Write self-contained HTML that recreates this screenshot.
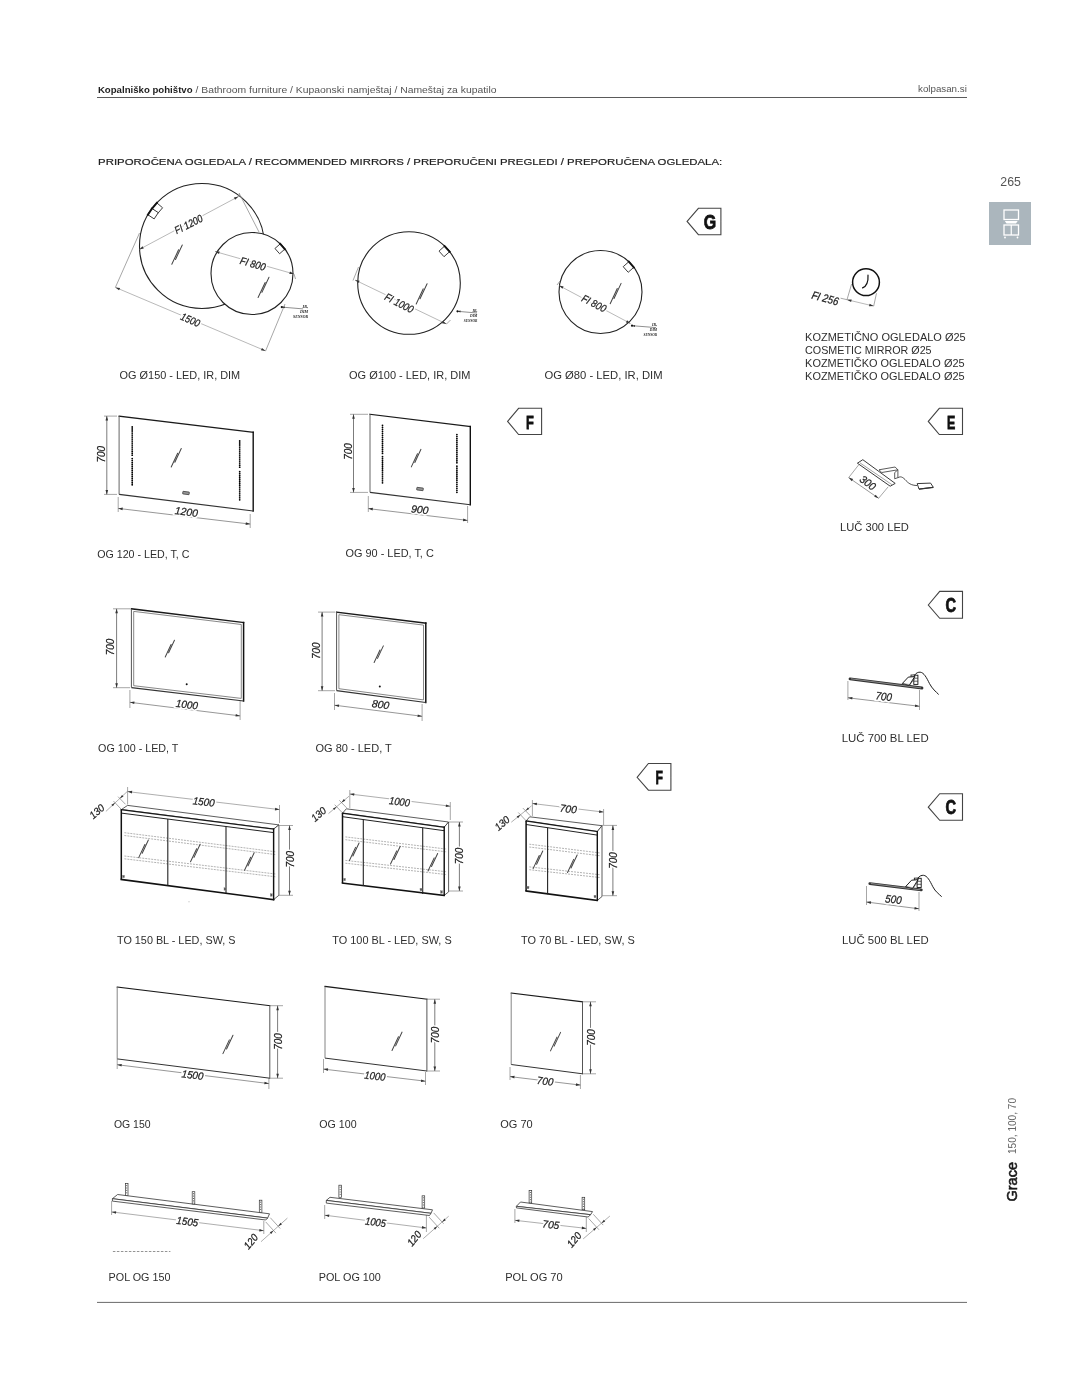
<!DOCTYPE html>
<html><head><meta charset="utf-8"><style>
html,body{margin:0;padding:0;background:#fff;width:1087px;height:1400px;overflow:hidden;position:relative;font-family:"Liberation Sans",sans-serif}
</style></head><body>
<svg width="1087" height="1400" viewBox="0 0 1087 1400" style="position:absolute;left:0;top:0;will-change:transform">
<line x1="97.0" y1="97.5" x2="967.0" y2="97.5" stroke="#5a5a5a" stroke-width="1.0" />
<text x="97.9" y="92.6" font-family="Liberation Sans" font-size="8.6" font-weight="bold" fill="#1e1e1e" textLength="94.7" lengthAdjust="spacingAndGlyphs">Kopalniško pohištvo</text>
<text x="195.5" y="92.6" font-family="Liberation Sans" font-size="8.6" fill="#555" textLength="301" lengthAdjust="spacingAndGlyphs">/ Bathroom furniture / Kupaonski namještaj / Nameštaj za kupatilo</text>
<text x="918" y="91.8" font-family="Liberation Sans" font-size="8.6" fill="#555" textLength="48.8" lengthAdjust="spacingAndGlyphs">kolpasan.si</text>
<text x="98.1" y="164.7" font-family="Liberation Sans" font-size="9.9" fill="#222" font-weight="normal" stroke="#222" stroke-width="0.2" textLength="624.1" lengthAdjust="spacingAndGlyphs">PRIPOROČENA OGLEDALA / RECOMMENDED MIRRORS / PREPORUČENI PREGLEDI / PREPORUČENA OGLEDALA:</text>
<text x="1000.3" y="185.9" font-family="Liberation Sans" font-size="12.4" fill="#555" textLength="20.6" lengthAdjust="spacingAndGlyphs">265</text>
<rect x="989" y="202" width="42" height="43" fill="#abb6bd"/>
<rect x="1004" y="210" width="14.5" height="9.5" fill="none" stroke="#fff" stroke-width="1.3"/>
<polygon points="1004.8,221 1017.7,221 1016,223.6 1006.5,223.6" fill="#fff"/>
<rect x="1004" y="225" width="14.5" height="10" fill="none" stroke="#fff" stroke-width="1.3"/>
<line x1="1011.25" y1="225" x2="1011.25" y2="235" stroke="#fff" stroke-width="1.2"/>
<circle cx="1005" cy="237.5" r="0.9" fill="#fff"/><circle cx="1017.5" cy="237.5" r="0.9" fill="#fff"/>
<line x1="97.0" y1="1302.4" x2="967.0" y2="1302.4" stroke="#6a6a6a" stroke-width="1.0" />
<text x="0" y="0" transform="translate(1017,1201.5) rotate(-90)" font-family="Liberation Sans" font-size="14.4" fill="#1a1a1a" stroke="#1a1a1a" stroke-width="0.55" textLength="39.5" lengthAdjust="spacingAndGlyphs">Grace</text>
<text x="0" y="0" transform="translate(1016,1154) rotate(-90)" font-family="Liberation Sans" font-size="10.3" fill="#666" textLength="56" lengthAdjust="spacingAndGlyphs">150, 100, 70</text>
<line x1="115.4" y1="287.4" x2="265.6" y2="350.9" stroke="#8a8a8a" stroke-width="0.6" />
<polygon points="115.4,287.4 120.1,288.0 119.0,290.3" fill="#333"/>
<polygon points="265.6,350.9 260.9,350.3 262.0,348.0" fill="#333"/>
<line x1="115.4" y1="287.4" x2="139.5" y2="233.0" stroke="#8a8a8a" stroke-width="0.75" />
<line x1="265.6" y1="350.9" x2="285.0" y2="304.0" stroke="#8a8a8a" stroke-width="0.75" />
<text x="0" y="0" transform="translate(190.5,319.5) rotate(23)" font-family="Liberation Sans" font-style="italic" font-size="10.5" text-anchor="middle" dominant-baseline="central" textLength="20" lengthAdjust="spacingAndGlyphs" fill="none" stroke="#fff" stroke-width="3.5">1500</text>
<text x="0" y="0" transform="translate(190.5,319.5) rotate(23)" font-family="Liberation Sans" font-style="italic" font-size="10.5" text-anchor="middle" dominant-baseline="central" textLength="20" lengthAdjust="spacingAndGlyphs" fill="#222" stroke="#222" stroke-width="0.25">1500</text>
<circle cx="202" cy="246" r="62.5" fill="#fff" stroke="#222" stroke-width="1.1"/>
<line x1="139.2" y1="249.5" x2="238.5" y2="196.5" stroke="#8a8a8a" stroke-width="0.6" />
<polygon points="139.2,249.5 142.6,246.2 143.8,248.5" fill="#333"/>
<polygon points="238.5,196.5 235.1,199.8 233.9,197.5" fill="#333"/>
<line x1="238.5" y1="196.5" x2="239.5" y2="193.5" stroke="#8a8a8a" stroke-width="0.75" />
<line x1="239.0" y1="193.0" x2="259.0" y2="232.0" stroke="#8a8a8a" stroke-width="0.75" />
<text x="0" y="0" transform="translate(188.4,224.0) rotate(-27)" font-family="Liberation Sans" font-style="italic" font-size="10.5" text-anchor="middle" dominant-baseline="central" textLength="30" lengthAdjust="spacingAndGlyphs" fill="none" stroke="#fff" stroke-width="3.5">FI 1200</text>
<text x="0" y="0" transform="translate(188.4,224.0) rotate(-27)" font-family="Liberation Sans" font-style="italic" font-size="10.5" text-anchor="middle" dominant-baseline="central" textLength="30" lengthAdjust="spacingAndGlyphs" fill="#222" stroke="#222" stroke-width="0.25">FI 1200</text>
<g transform="translate(157.3,208.2) rotate(130.2)"><rect x="-3.75" y="-3.75" width="7.5" height="7.5" fill="#fff" stroke="#222" stroke-width="0.8"/><line x1="-4.75" y1="3.75" x2="4.75" y2="3.75" stroke="#111" stroke-width="1.9"/></g>
<g transform="translate(153.1,213.7) rotate(123.4)"><rect x="-3.75" y="-3.75" width="7.5" height="7.5" fill="#fff" stroke="#222" stroke-width="0.8"/><line x1="-4.75" y1="3.75" x2="4.75" y2="3.75" stroke="#111" stroke-width="1.9"/></g>
<g transform="translate(177.0,254.6) rotate(25)"><path d="M-0.6,11.0 L-0.6,-5.0 M0.7,5.0 L0.7,-11.0" stroke="#444" stroke-width="1.0" fill="none" stroke-linecap="round"/></g>
<circle cx="252" cy="273.5" r="41" fill="#fff" stroke="#222" stroke-width="1.1"/>
<g transform="translate(279.9,248.8) rotate(-131.5)"><rect x="-3.5" y="-3.5" width="7" height="7" fill="#fff" stroke="#222" stroke-width="0.8"/><line x1="-4.5" y1="3.5" x2="4.5" y2="3.5" stroke="#111" stroke-width="1.9"/></g>
<line x1="215.0" y1="251.5" x2="294.0" y2="274.0" stroke="#8a8a8a" stroke-width="0.6" />
<polygon points="215.0,251.5 219.7,251.5 219.0,254.0" fill="#333"/>
<polygon points="294.0,274.0 289.3,274.0 290.0,271.5" fill="#333"/>
<line x1="294.0" y1="274.0" x2="295.5" y2="279.0" stroke="#8a8a8a" stroke-width="0.75" />
<text x="0" y="0" transform="translate(252.9,263.5) rotate(16)" font-family="Liberation Sans" font-style="italic" font-size="10.5" text-anchor="middle" dominant-baseline="central" textLength="26" lengthAdjust="spacingAndGlyphs" fill="none" stroke="#fff" stroke-width="3.5">FI 800</text>
<text x="0" y="0" transform="translate(252.9,263.5) rotate(16)" font-family="Liberation Sans" font-style="italic" font-size="10.5" text-anchor="middle" dominant-baseline="central" textLength="26" lengthAdjust="spacingAndGlyphs" fill="#222" stroke="#222" stroke-width="0.25">FI 800</text>
<g transform="translate(263.5,287.4) rotate(25)"><path d="M-0.6,11.5 L-0.6,-5.2 M0.7,5.2 L0.7,-11.5" stroke="#444" stroke-width="1.0" fill="none" stroke-linecap="round"/></g>
<line x1="281.8" y1="307.1" x2="303.1" y2="308.9" stroke="#444" stroke-width="0.6" />
<polygon points="281.8,307.1 284.9,306.4 284.7,308.3" fill="#333"/>
<circle cx="281.8" cy="307.1" r="1.1" fill="#111"/>
<text x="302.5" y="307.5" font-family="Liberation Serif" font-style="italic" font-weight="bold" font-size="4.4" fill="#222" textLength="5.5" lengthAdjust="spacingAndGlyphs">IR,</text>
<text x="300.0" y="312.8" font-family="Liberation Serif" font-style="italic" font-weight="bold" font-size="4.4" fill="#222" textLength="8.0" lengthAdjust="spacingAndGlyphs">DIM</text>
<text x="293.0" y="318.3" font-family="Liberation Serif" font-style="italic" font-weight="bold" font-size="4.4" fill="#222" textLength="15.0" lengthAdjust="spacingAndGlyphs">SENSOR</text>
<circle cx="409" cy="283" r="51.3" fill="#fff" stroke="#222" stroke-width="1.1"/>
<line x1="355.0" y1="280.0" x2="446.5" y2="324.0" stroke="#8a8a8a" stroke-width="0.6" />
<polygon points="355.0,280.0 359.6,280.8 358.5,283.1" fill="#333"/>
<polygon points="446.5,324.0 441.9,323.2 443.0,320.9" fill="#333"/>
<line x1="353.0" y1="280.5" x2="358.5" y2="267.0" stroke="#8a8a8a" stroke-width="0.75" />
<line x1="446.5" y1="324.0" x2="450.5" y2="320.0" stroke="#8a8a8a" stroke-width="0.75" />
<text x="0" y="0" transform="translate(399.3,302.8) rotate(27)" font-family="Liberation Sans" font-style="italic" font-size="10.5" text-anchor="middle" dominant-baseline="central" textLength="31" lengthAdjust="spacingAndGlyphs" fill="none" stroke="#fff" stroke-width="3.5">FI 1000</text>
<text x="0" y="0" transform="translate(399.3,302.8) rotate(27)" font-family="Liberation Sans" font-style="italic" font-size="10.5" text-anchor="middle" dominant-baseline="central" textLength="31" lengthAdjust="spacingAndGlyphs" fill="#222" stroke="#222" stroke-width="0.25">FI 1000</text>
<g transform="translate(444.3,251.4) rotate(-131.8)"><rect x="-3.75" y="-3.75" width="7.5" height="7.5" fill="#fff" stroke="#222" stroke-width="0.8"/><line x1="-4.75" y1="3.75" x2="4.75" y2="3.75" stroke="#111" stroke-width="1.9"/></g>
<g transform="translate(421.6,293.8) rotate(25)"><path d="M-0.6,11.5 L-0.6,-5.2 M0.7,5.2 L0.7,-11.5" stroke="#444" stroke-width="1.0" fill="none" stroke-linecap="round"/></g>
<line x1="457.5" y1="311.3" x2="477.0" y2="313.0" stroke="#444" stroke-width="0.6" />
<polygon points="457.5,311.3 460.6,310.6 460.4,312.6" fill="#333"/>
<circle cx="457.5" cy="311.3" r="1.1" fill="#111"/>
<text x="472.4" y="311.9" font-family="Liberation Serif" font-style="italic" font-weight="bold" font-size="4.0" fill="#222" textLength="5.0" lengthAdjust="spacingAndGlyphs">IR,</text>
<text x="470.1" y="316.6" font-family="Liberation Serif" font-style="italic" font-weight="bold" font-size="4.0" fill="#222" textLength="7.2" lengthAdjust="spacingAndGlyphs">DIM</text>
<text x="463.8" y="321.6" font-family="Liberation Serif" font-style="italic" font-weight="bold" font-size="4.0" fill="#222" textLength="13.5" lengthAdjust="spacingAndGlyphs">SENSOR</text>
<circle cx="600.5" cy="292" r="41.5" fill="#fff" stroke="#222" stroke-width="1.1"/>
<line x1="559.0" y1="285.5" x2="630.5" y2="323.5" stroke="#8a8a8a" stroke-width="0.6" />
<polygon points="559.0,285.5 563.6,286.5 562.4,288.8" fill="#333"/>
<polygon points="630.5,323.5 625.9,322.5 627.1,320.2" fill="#333"/>
<line x1="557.0" y1="285.0" x2="560.0" y2="281.0" stroke="#8a8a8a" stroke-width="0.75" />
<text x="0" y="0" transform="translate(594.2,303.1) rotate(27)" font-family="Liberation Sans" font-style="italic" font-size="10.5" text-anchor="middle" dominant-baseline="central" textLength="26" lengthAdjust="spacingAndGlyphs" fill="none" stroke="#fff" stroke-width="3.5">FI 800</text>
<text x="0" y="0" transform="translate(594.2,303.1) rotate(27)" font-family="Liberation Sans" font-style="italic" font-size="10.5" text-anchor="middle" dominant-baseline="central" textLength="26" lengthAdjust="spacingAndGlyphs" fill="#222" stroke="#222" stroke-width="0.25">FI 800</text>
<g transform="translate(628.5,267.0) rotate(-131.7)"><rect x="-3.75" y="-3.75" width="7.5" height="7.5" fill="#fff" stroke="#222" stroke-width="0.8"/><line x1="-4.75" y1="3.75" x2="4.75" y2="3.75" stroke="#111" stroke-width="1.9"/></g>
<g transform="translate(615.6,293.5) rotate(25)"><path d="M-0.6,11.5 L-0.6,-5.2 M0.7,5.2 L0.7,-11.5" stroke="#444" stroke-width="1.0" fill="none" stroke-linecap="round"/></g>
<line x1="632.0" y1="325.7" x2="656.0" y2="327.6" stroke="#444" stroke-width="0.6" />
<polygon points="632.0,325.7 635.1,324.9 634.9,326.9" fill="#333"/>
<circle cx="632.0" cy="325.7" r="1.1" fill="#111"/>
<text x="652.0" y="326.2" font-family="Liberation Serif" font-style="italic" font-weight="bold" font-size="4.0" fill="#222" textLength="5.0" lengthAdjust="spacingAndGlyphs">IR,</text>
<text x="649.8" y="330.9" font-family="Liberation Serif" font-style="italic" font-weight="bold" font-size="4.0" fill="#222" textLength="7.2" lengthAdjust="spacingAndGlyphs">DIM</text>
<text x="643.5" y="335.9" font-family="Liberation Serif" font-style="italic" font-weight="bold" font-size="4.0" fill="#222" textLength="13.5" lengthAdjust="spacingAndGlyphs">SENSOR</text>
<circle cx="866" cy="282.2" r="13.4" fill="#fff" stroke="#111" stroke-width="1.5"/>
<path d="M868,275.2 C868.3,280 867.8,285.5 862.6,287.9" fill="none" stroke="#111" stroke-width="1.2" stroke-linecap="round"/>
<line x1="847.0" y1="299.7" x2="873.7" y2="306.1" stroke="#8a8a8a" stroke-width="0.6" />
<polygon points="847.0,299.7 851.7,299.5 851.1,302.0" fill="#333"/>
<polygon points="873.7,306.1 869.0,306.3 869.6,303.8" fill="#333"/>
<line x1="840.6" y1="298.2" x2="847.0" y2="299.7" stroke="#8a8a8a" stroke-width="0.75" />
<line x1="847.0" y1="299.7" x2="851.6" y2="284.0" stroke="#8a8a8a" stroke-width="0.75" />
<line x1="873.7" y1="306.1" x2="876.5" y2="293.2" stroke="#8a8a8a" stroke-width="0.75" />
<text x="0" y="0" transform="translate(825.2,298.1) rotate(15)" font-family="Liberation Sans" font-style="italic" font-size="11.3" text-anchor="middle" dominant-baseline="central" textLength="27.5" lengthAdjust="spacingAndGlyphs" fill="#222" stroke="#222" stroke-width="0.25">FI 256</text>
<text x="119.6" y="378.8" font-family="Liberation Sans" font-size="11" fill="#2e2e2e" font-weight="normal" textLength="120.6" lengthAdjust="spacingAndGlyphs">OG Ø150 - LED, IR, DIM</text>
<text x="349.0" y="378.5" font-family="Liberation Sans" font-size="11" fill="#2e2e2e" font-weight="normal" textLength="121.4" lengthAdjust="spacingAndGlyphs">OG Ø100 - LED, IR, DIM</text>
<text x="544.5" y="378.9" font-family="Liberation Sans" font-size="11" fill="#2e2e2e" font-weight="normal" textLength="118.0" lengthAdjust="spacingAndGlyphs">OG Ø80 - LED, IR, DIM</text>
<text x="805.1" y="341.2" font-family="Liberation Sans" font-size="10.3" fill="#2e2e2e" font-weight="normal" textLength="160.6" lengthAdjust="spacingAndGlyphs">KOZMETIČNO OGLEDALO Ø25</text>
<text x="805.1" y="354.0" font-family="Liberation Sans" font-size="10.3" fill="#2e2e2e" font-weight="normal" textLength="126.5" lengthAdjust="spacingAndGlyphs">COSMETIC MIRROR Ø25</text>
<text x="805.1" y="366.9" font-family="Liberation Sans" font-size="10.3" fill="#2e2e2e" font-weight="normal" textLength="159.5" lengthAdjust="spacingAndGlyphs">KOZMETIČKO OGLEDALO Ø25</text>
<text x="805.1" y="379.8" font-family="Liberation Sans" font-size="10.3" fill="#2e2e2e" font-weight="normal" textLength="159.5" lengthAdjust="spacingAndGlyphs">KOZMETIČKO OGLEDALO Ø25</text>
<polygon points="687.1,221.4 698.4,208.3 720.9,208.3 720.9,234.7 698.4,234.7" stroke="#444" stroke-width="1.1" fill="#fff" />
<text x="703.7" y="229.0" font-family="Liberation Sans" font-weight="bold" font-size="20.2" fill="#111" stroke="#111" stroke-width="0.8" textLength="12.4" lengthAdjust="spacingAndGlyphs">G</text>
<polygon points="507.6,421.4 518.6,408.3 541.6,408.3 541.6,434.5 518.6,434.5" stroke="#444" stroke-width="1.1" fill="#fff" />
<text x="526.0" y="428.5" font-family="Liberation Sans" font-weight="bold" font-size="19.2" fill="#111" stroke="#111" stroke-width="0.8" textLength="7.8" lengthAdjust="spacingAndGlyphs">F</text>
<polygon points="928.3,421.4 939.3,408.3 962.5,408.3 962.5,434.5 939.3,434.5" stroke="#444" stroke-width="1.1" fill="#fff" />
<text x="947.1" y="428.5" font-family="Liberation Sans" font-weight="bold" font-size="19.2" fill="#111" stroke="#111" stroke-width="0.8" textLength="8.3" lengthAdjust="spacingAndGlyphs">E</text>
<polygon points="637.1,777.3 648.4,763.5 670.9,763.5 670.9,790.2 648.4,790.2" stroke="#444" stroke-width="1.1" fill="#fff" />
<text x="655.5" y="784.0" font-family="Liberation Sans" font-weight="bold" font-size="18.9" fill="#111" stroke="#111" stroke-width="0.8" textLength="7.4" lengthAdjust="spacingAndGlyphs">F</text>
<polygon points="928.3,605.0 939.7,591.4 962.5,591.4 962.5,618.3 939.7,618.3" stroke="#444" stroke-width="1.1" fill="#fff" />
<text x="945.5" y="612.1" font-family="Liberation Sans" font-weight="bold" font-size="19.5" fill="#111" stroke="#111" stroke-width="0.8" textLength="10.6" lengthAdjust="spacingAndGlyphs">C</text>
<polygon points="928.3,807.2 939.7,793.7 962.5,793.7 962.5,820.3 939.7,820.3" stroke="#444" stroke-width="1.1" fill="#fff" />
<text x="945.5" y="814.4" font-family="Liberation Sans" font-weight="bold" font-size="19.6" fill="#111" stroke="#111" stroke-width="0.8" textLength="10.6" lengthAdjust="spacingAndGlyphs">C</text>
<line x1="118.2" y1="497.0" x2="118.2" y2="512.0" stroke="#8a8a8a" stroke-width="0.75" />
<line x1="250.2" y1="514.0" x2="250.2" y2="528.0" stroke="#8a8a8a" stroke-width="0.75" />
<line x1="118.2" y1="508.4" x2="250.2" y2="524.1" stroke="#6a6a6a" stroke-width="0.7" />
<polygon points="118.2,508.4 122.8,507.6 122.5,510.2" fill="#333"/>
<polygon points="250.2,524.1 245.6,524.9 245.9,522.3" fill="#333"/>
<text x="0" y="0" transform="translate(186.4,511.5) rotate(6.782860307195173)" font-family="Liberation Sans" font-style="italic" font-size="10.5" text-anchor="middle" dominant-baseline="central" textLength="23" lengthAdjust="spacingAndGlyphs" fill="none" stroke="#fff" stroke-width="3.5">1200</text>
<text x="0" y="0" transform="translate(186.4,511.5) rotate(6.782860307195173)" font-family="Liberation Sans" font-style="italic" font-size="10.5" text-anchor="middle" dominant-baseline="central" textLength="23" lengthAdjust="spacingAndGlyphs" fill="#222" stroke="#222" stroke-width="0.25">1200</text>
<polygon points="119.1,416.1 253.2,432.3 253.2,511 119.1,494.4" fill="#fff" stroke="none"/>
<line x1="119.1" y1="416.1" x2="253.2" y2="432.3" stroke="#1a1a1a" stroke-width="1.3"  stroke-linecap="square"/>
<line x1="253.2" y1="432.3" x2="253.2" y2="511.0" stroke="#111" stroke-width="1.4"  stroke-linecap="square"/>
<line x1="253.2" y1="511.0" x2="119.1" y2="494.4" stroke="#333" stroke-width="1.1" />
<line x1="119.1" y1="494.4" x2="119.1" y2="416.1" stroke="#555" stroke-width="0.9" />
<line x1="104.0" y1="416.1" x2="117.0" y2="416.1" stroke="#8a8a8a" stroke-width="0.75" />
<line x1="104.0" y1="494.4" x2="117.0" y2="494.4" stroke="#8a8a8a" stroke-width="0.75" />
<line x1="106.8" y1="416.1" x2="106.8" y2="494.4" stroke="#5a5a5a" stroke-width="0.8" />
<polygon points="106.8,416.1 108.1,420.6 105.5,420.6" fill="#333"/>
<polygon points="106.8,494.4 105.5,489.9 108.1,489.9" fill="#333"/>
<text x="0" y="0" transform="translate(100.7,454.2) rotate(-90)" font-family="Liberation Sans" font-style="italic" font-size="10.5" text-anchor="middle" dominant-baseline="central" textLength="16.5" lengthAdjust="spacingAndGlyphs" fill="#222" stroke="#222" stroke-width="0.25">700</text>
<line x1="132.2" y1="427.0" x2="132.2" y2="456.0" stroke="#000" stroke-width="1.8" stroke-dasharray="0.01 2.0" stroke-linecap="round"/>
<line x1="132.2" y1="458.6" x2="132.2" y2="486.5" stroke="#000" stroke-width="1.8" stroke-dasharray="0.01 2.0" stroke-linecap="round"/>
<line x1="239.7" y1="441.0" x2="239.7" y2="469.0" stroke="#000" stroke-width="1.8" stroke-dasharray="0.01 2.0" stroke-linecap="round"/>
<line x1="239.7" y1="471.7" x2="239.7" y2="500.5" stroke="#000" stroke-width="1.8" stroke-dasharray="0.01 2.0" stroke-linecap="round"/>
<g transform="translate(176.2,457.7) rotate(25)"><path d="M-0.6,10.5 L-0.6,-4.7 M0.7,4.7 L0.7,-10.5" stroke="#444" stroke-width="1.0" fill="none" stroke-linecap="round"/></g>
<g transform="translate(186.0,493.0) rotate(6.9)"><rect x="-3.25" y="-1.3" width="6.5" height="2.6" rx="0.3" fill="#999" stroke="#333" stroke-width="0.7"/></g>
<text x="97.2" y="557.5" font-family="Liberation Sans" font-size="11" fill="#2e2e2e" font-weight="normal" textLength="92.3" lengthAdjust="spacingAndGlyphs">OG 120 - LED, T, C</text>
<line x1="368.3" y1="496.0" x2="368.3" y2="512.0" stroke="#8a8a8a" stroke-width="0.75" />
<line x1="467.6" y1="506.0" x2="467.6" y2="523.0" stroke="#8a8a8a" stroke-width="0.75" />
<line x1="368.3" y1="508.6" x2="467.6" y2="520.4" stroke="#6a6a6a" stroke-width="0.7" />
<polygon points="368.3,508.6 372.9,507.8 372.6,510.4" fill="#333"/>
<polygon points="467.6,520.4 463.0,521.2 463.3,518.6" fill="#333"/>
<text x="0" y="0" transform="translate(419.8,509.2) rotate(6.776782830353389)" font-family="Liberation Sans" font-style="italic" font-size="10.5" text-anchor="middle" dominant-baseline="central" textLength="17.5" lengthAdjust="spacingAndGlyphs" fill="none" stroke="#fff" stroke-width="3.5">900</text>
<text x="0" y="0" transform="translate(419.8,509.2) rotate(6.776782830353389)" font-family="Liberation Sans" font-style="italic" font-size="10.5" text-anchor="middle" dominant-baseline="central" textLength="17.5" lengthAdjust="spacingAndGlyphs" fill="#222" stroke="#222" stroke-width="0.25">900</text>
<polygon points="370,414.3 470.3,426.5 470.3,504.8 370,492.4" fill="#fff" stroke="none"/>
<line x1="370.0" y1="414.3" x2="470.3" y2="426.5" stroke="#1a1a1a" stroke-width="1.3"  stroke-linecap="square"/>
<line x1="470.3" y1="426.5" x2="470.3" y2="504.8" stroke="#111" stroke-width="1.4"  stroke-linecap="square"/>
<line x1="470.3" y1="504.8" x2="370.0" y2="492.4" stroke="#333" stroke-width="1.1" />
<line x1="370.0" y1="492.4" x2="370.0" y2="414.3" stroke="#555" stroke-width="0.9" />
<line x1="350.0" y1="414.3" x2="368.0" y2="414.3" stroke="#8a8a8a" stroke-width="0.75" />
<line x1="350.0" y1="492.4" x2="368.0" y2="492.4" stroke="#8a8a8a" stroke-width="0.75" />
<line x1="353.5" y1="414.3" x2="353.5" y2="492.4" stroke="#5a5a5a" stroke-width="0.8" />
<polygon points="353.5,414.3 354.8,418.8 352.2,418.8" fill="#333"/>
<polygon points="353.5,492.4 352.2,487.9 354.8,487.9" fill="#333"/>
<text x="0" y="0" transform="translate(348.4,451.5) rotate(-90)" font-family="Liberation Sans" font-style="italic" font-size="10.5" text-anchor="middle" dominant-baseline="central" textLength="16.5" lengthAdjust="spacingAndGlyphs" fill="#222" stroke="#222" stroke-width="0.25">700</text>
<line x1="382.5" y1="425.3" x2="382.5" y2="453.7" stroke="#000" stroke-width="1.8" stroke-dasharray="0.01 2.0" stroke-linecap="round"/>
<line x1="382.5" y1="456.7" x2="382.5" y2="484.6" stroke="#000" stroke-width="1.8" stroke-dasharray="0.01 2.0" stroke-linecap="round"/>
<line x1="456.9" y1="434.6" x2="456.9" y2="463.3" stroke="#000" stroke-width="1.8" stroke-dasharray="0.01 2.0" stroke-linecap="round"/>
<line x1="456.9" y1="466.2" x2="456.9" y2="494.2" stroke="#000" stroke-width="1.8" stroke-dasharray="0.01 2.0" stroke-linecap="round"/>
<g transform="translate(416.1,458.1) rotate(25)"><path d="M-0.6,10.0 L-0.6,-4.5 M0.7,4.5 L0.7,-10.0" stroke="#444" stroke-width="1.0" fill="none" stroke-linecap="round"/></g>
<g transform="translate(420.0,489.0) rotate(6.9)"><rect x="-3.25" y="-1.3" width="6.5" height="2.6" rx="0.3" fill="#999" stroke="#333" stroke-width="0.7"/></g>
<text x="345.5" y="557.1" font-family="Liberation Sans" font-size="11" fill="#2e2e2e" font-weight="normal" textLength="88.3" lengthAdjust="spacingAndGlyphs">OG 90 - LED, T, C</text>
<line x1="848.7" y1="477.6" x2="858.8" y2="464.7" stroke="#8a8a8a" stroke-width="0.75" />
<line x1="878.6" y1="498.3" x2="888.2" y2="486.8" stroke="#8a8a8a" stroke-width="0.75" />
<line x1="848.7" y1="477.6" x2="878.6" y2="498.3" stroke="#6a6a6a" stroke-width="0.7" />
<polygon points="848.7,477.6 853.1,479.1 851.7,481.2" fill="#333"/>
<polygon points="878.6,498.3 874.2,496.8 875.6,494.7" fill="#333"/>
<text x="0" y="0" transform="translate(868.0,482.6) rotate(37)" font-family="Liberation Sans" font-style="italic" font-size="11" text-anchor="middle" dominant-baseline="central" textLength="17" lengthAdjust="spacingAndGlyphs" fill="#222" stroke="#222" stroke-width="0.25">300</text>
<polygon points="879,469.8 895.1,467 897.9,469.8 881.8,472.5" fill="#fff" stroke="#333" stroke-width="0.8" stroke-linejoin="round"/>
<polygon points="894.7,472.6 897.9,469.8 897.9,477.6 894.7,478.8" fill="#fff" stroke="#333" stroke-width="0.8" stroke-linejoin="round"/>
<polygon points="857.4,463.2 862.8,459.7 895.2,483.4 890.2,486.2" fill="#fff" stroke="#222" stroke-width="0.9" stroke-linejoin="round"/>
<line x1="860" y1="462.9" x2="892" y2="484.7" stroke="#666" stroke-width="0.6"/>
<path d="M897.9,477.8 C900.5,476 902.5,477 905,479.5 C908,483 911,485.5 917.2,485.5" fill="none" stroke="#222" stroke-width="0.8"/>
<polygon points="917.2,483.6 930.6,483.1 933.3,487.3 919,489.1" fill="#fff" stroke="#222" stroke-width="0.9" stroke-linejoin="round"/>
<line x1="919" y1="489.1" x2="933.3" y2="487.3" stroke="#333" stroke-width="1.3"/>
<text x="840.0" y="531.0" font-family="Liberation Sans" font-size="11" fill="#2e2e2e" font-weight="normal" textLength="68.9" lengthAdjust="spacingAndGlyphs">LUČ 300 LED</text>
<line x1="129.9" y1="690.0" x2="129.9" y2="708.0" stroke="#8a8a8a" stroke-width="0.75" />
<line x1="240.1" y1="700.0" x2="240.1" y2="720.0" stroke="#8a8a8a" stroke-width="0.75" />
<line x1="129.9" y1="702.3" x2="240.1" y2="715.9" stroke="#6a6a6a" stroke-width="0.7" />
<polygon points="129.9,702.3 134.5,701.6 134.2,704.1" fill="#333"/>
<polygon points="240.1,715.9 235.5,716.6 235.8,714.1" fill="#333"/>
<text x="0" y="0" transform="translate(187.0,704.2) rotate(7.035411762302959)" font-family="Liberation Sans" font-style="italic" font-size="10.5" text-anchor="middle" dominant-baseline="central" textLength="22" lengthAdjust="spacingAndGlyphs" fill="none" stroke="#fff" stroke-width="3.5">1000</text>
<text x="0" y="0" transform="translate(187.0,704.2) rotate(7.035411762302959)" font-family="Liberation Sans" font-style="italic" font-size="10.5" text-anchor="middle" dominant-baseline="central" textLength="22" lengthAdjust="spacingAndGlyphs" fill="#222" stroke="#222" stroke-width="0.25">1000</text>
<polygon points="131.4,608.8 243.6,622.5 243.6,701 131.4,687.7" fill="#fff" stroke="none"/>
<line x1="131.4" y1="608.8" x2="243.6" y2="622.5" stroke="#1a1a1a" stroke-width="1.4"  stroke-linecap="square"/>
<line x1="243.6" y1="622.5" x2="243.6" y2="701.0" stroke="#111" stroke-width="1.5"  stroke-linecap="square"/>
<line x1="243.6" y1="701.0" x2="131.4" y2="687.7" stroke="#333" stroke-width="1.2" />
<line x1="131.4" y1="687.7" x2="131.4" y2="608.8" stroke="#555" stroke-width="1.0" />
<polygon points="133.7,611.4 241.3,624.5 241.3,698.4 133.7,685.7" stroke="#555" stroke-width="0.7" fill="none" />
<line x1="113.0" y1="608.8" x2="130.0" y2="608.8" stroke="#8a8a8a" stroke-width="0.75" />
<line x1="113.0" y1="687.7" x2="130.0" y2="687.7" stroke="#8a8a8a" stroke-width="0.75" />
<line x1="116.6" y1="608.8" x2="116.6" y2="687.7" stroke="#5a5a5a" stroke-width="0.8" />
<polygon points="116.6,608.8 117.9,613.3 115.3,613.3" fill="#333"/>
<polygon points="116.6,687.7 115.3,683.2 117.9,683.2" fill="#333"/>
<text x="0" y="0" transform="translate(110.3,647.1) rotate(-90)" font-family="Liberation Sans" font-style="italic" font-size="10.5" text-anchor="middle" dominant-baseline="central" textLength="16.5" lengthAdjust="spacingAndGlyphs" fill="#222" stroke="#222" stroke-width="0.25">700</text>
<g transform="translate(169.8,648.6) rotate(25)"><path d="M-0.6,9.5 L-0.6,-4.3 M0.7,4.3 L0.7,-9.5" stroke="#444" stroke-width="1.0" fill="none" stroke-linecap="round"/></g>
<circle cx="186.7" cy="684.2" r="1" fill="#111"/>
<text x="98.1" y="752.0" font-family="Liberation Sans" font-size="11" fill="#2e2e2e" font-weight="normal" textLength="80.3" lengthAdjust="spacingAndGlyphs">OG 100 - LED, T</text>
<line x1="334.5" y1="693.0" x2="334.5" y2="710.0" stroke="#8a8a8a" stroke-width="0.75" />
<line x1="422.1" y1="704.0" x2="422.1" y2="721.0" stroke="#8a8a8a" stroke-width="0.75" />
<line x1="334.5" y1="705.2" x2="422.1" y2="716.3" stroke="#6a6a6a" stroke-width="0.7" />
<polygon points="334.5,705.2 339.1,704.5 338.8,707.1" fill="#333"/>
<polygon points="422.1,716.3 417.5,717.0 417.8,714.4" fill="#333"/>
<text x="0" y="0" transform="translate(380.7,704.2) rotate(7.221595742491988)" font-family="Liberation Sans" font-style="italic" font-size="10.5" text-anchor="middle" dominant-baseline="central" textLength="17.5" lengthAdjust="spacingAndGlyphs" fill="none" stroke="#fff" stroke-width="3.5">800</text>
<text x="0" y="0" transform="translate(380.7,704.2) rotate(7.221595742491988)" font-family="Liberation Sans" font-style="italic" font-size="10.5" text-anchor="middle" dominant-baseline="central" textLength="17.5" lengthAdjust="spacingAndGlyphs" fill="#222" stroke="#222" stroke-width="0.25">800</text>
<polygon points="336.6,612.1 425.8,623.1 425.8,702.5 336.6,690.7" fill="#fff" stroke="none"/>
<line x1="336.6" y1="612.1" x2="425.8" y2="623.1" stroke="#1a1a1a" stroke-width="1.4"  stroke-linecap="square"/>
<line x1="425.8" y1="623.1" x2="425.8" y2="702.5" stroke="#111" stroke-width="1.5"  stroke-linecap="square"/>
<line x1="425.8" y1="702.5" x2="336.6" y2="690.7" stroke="#333" stroke-width="1.2" />
<line x1="336.6" y1="690.7" x2="336.6" y2="612.1" stroke="#555" stroke-width="1.0" />
<polygon points="338.9,614.7 423.5,625.1 423.5,699.9 338.9,688.7" stroke="#555" stroke-width="0.7" fill="none" />
<line x1="318.0" y1="612.1" x2="335.0" y2="612.1" stroke="#8a8a8a" stroke-width="0.75" />
<line x1="318.0" y1="690.7" x2="335.0" y2="690.7" stroke="#8a8a8a" stroke-width="0.75" />
<line x1="322.1" y1="612.1" x2="322.1" y2="690.7" stroke="#5a5a5a" stroke-width="0.8" />
<polygon points="322.1,612.1 323.4,616.6 320.8,616.6" fill="#333"/>
<polygon points="322.1,690.7 320.8,686.2 323.4,686.2" fill="#333"/>
<text x="0" y="0" transform="translate(315.9,650.7) rotate(-90)" font-family="Liberation Sans" font-style="italic" font-size="10.5" text-anchor="middle" dominant-baseline="central" textLength="16.5" lengthAdjust="spacingAndGlyphs" fill="#222" stroke="#222" stroke-width="0.25">700</text>
<g transform="translate(378.7,654.2) rotate(25)"><path d="M-0.6,9.5 L-0.6,-4.3 M0.7,4.3 L0.7,-9.5" stroke="#444" stroke-width="1.0" fill="none" stroke-linecap="round"/></g>
<circle cx="379.8" cy="686.6" r="1" fill="#111"/>
<text x="315.5" y="752.0" font-family="Liberation Sans" font-size="11" fill="#2e2e2e" font-weight="normal" textLength="76.3" lengthAdjust="spacingAndGlyphs">OG 80 - LED, T</text>
<line x1="847.9" y1="681.0" x2="847.9" y2="700.0" stroke="#8a8a8a" stroke-width="0.75" />
<line x1="919.5" y1="690.0" x2="919.5" y2="710.0" stroke="#8a8a8a" stroke-width="0.75" />
<line x1="847.9" y1="697.8" x2="919.5" y2="706.3" stroke="#6a6a6a" stroke-width="0.7" />
<polygon points="847.9,697.8 852.5,697.0 852.2,699.6" fill="#333"/>
<polygon points="919.5,706.3 914.9,707.1 915.2,704.5" fill="#333"/>
<text x="0" y="0" transform="translate(883.8,696.3) rotate(6.8)" font-family="Liberation Sans" font-style="italic" font-size="11" text-anchor="middle" dominant-baseline="central" textLength="16.5" lengthAdjust="spacingAndGlyphs" fill="none" stroke="#fff" stroke-width="3.5">700</text>
<text x="0" y="0" transform="translate(883.8,696.3) rotate(6.8)" font-family="Liberation Sans" font-style="italic" font-size="11" text-anchor="middle" dominant-baseline="central" textLength="16.5" lengthAdjust="spacingAndGlyphs" fill="#222" stroke="#222" stroke-width="0.25">700</text>
<line x1="850" y1="678.9" x2="922" y2="688" stroke="#333" stroke-width="2.8" stroke-linecap="round"/>
<line x1="851" y1="678.8" x2="921" y2="687.9" stroke="#8a8a8a" stroke-width="1.0"/>
<rect x="913.8" y="675.2" width="4.1" height="9.2" fill="#fff" stroke="#111" stroke-width="0.9"/>
<line x1="913.8" y1="678.2" x2="917.9" y2="678.2" stroke="#222" stroke-width="0.7"/><line x1="913.8" y1="681.2" x2="917.9" y2="681.2" stroke="#222" stroke-width="0.7"/>
<rect x="911" y="675.0" width="3.7" height="2.1" fill="#fff" stroke="#111" stroke-width="0.8"/>
<polygon points="902.3,683.5 908.3,677.1 914.7,676.6 909.2,685.4" fill="#fff" stroke="#111" stroke-width="0.95" stroke-linejoin="round"/>
<line x1="904" y1="683.8000000000001" x2="909.5" y2="684.5" stroke="#777" stroke-width="0.6"/>
<line x1="909.2" y1="685.4" x2="914.6" y2="678.8000000000001" stroke="#333" stroke-width="0.6"/>
<path d="M914.7,675.2 C916,672.7 918.5,672.1 920.2,672.2 C924,672.6 926.5,677.6 929.5,683.6 C932,688.6 936.2,692.0 938.7,694.5" fill="none" stroke="#111" stroke-width="0.95"/>
<text x="841.7" y="741.9" font-family="Liberation Sans" font-size="11" fill="#2e2e2e" font-weight="normal" textLength="87.0" lengthAdjust="spacingAndGlyphs">LUČ 700 BL LED</text>
<line x1="866.5" y1="886.0" x2="866.5" y2="905.0" stroke="#8a8a8a" stroke-width="0.75" />
<line x1="919.0" y1="892.0" x2="919.0" y2="911.0" stroke="#8a8a8a" stroke-width="0.75" />
<line x1="866.5" y1="902.0" x2="919.0" y2="908.8" stroke="#6a6a6a" stroke-width="0.7" />
<polygon points="866.5,902.0 871.1,901.3 870.8,903.9" fill="#333"/>
<polygon points="919.0,908.8 914.4,909.5 914.7,906.9" fill="#333"/>
<text x="0" y="0" transform="translate(893.4,899.2) rotate(7)" font-family="Liberation Sans" font-style="italic" font-size="11" text-anchor="middle" dominant-baseline="central" textLength="16.5" lengthAdjust="spacingAndGlyphs" fill="none" stroke="#fff" stroke-width="3.5">500</text>
<text x="0" y="0" transform="translate(893.4,899.2) rotate(7)" font-family="Liberation Sans" font-style="italic" font-size="11" text-anchor="middle" dominant-baseline="central" textLength="16.5" lengthAdjust="spacingAndGlyphs" fill="#222" stroke="#222" stroke-width="0.25">500</text>
<line x1="869.8" y1="883.6" x2="921.3" y2="889.9" stroke="#333" stroke-width="2.8" stroke-linecap="round"/>
<line x1="870.8" y1="883.5" x2="920.3" y2="889.8" stroke="#8a8a8a" stroke-width="1.0"/>
<rect x="917.0999999999999" y="878.3000000000001" width="4.1" height="9.2" fill="#fff" stroke="#111" stroke-width="0.9"/>
<line x1="917.0999999999999" y1="881.3000000000001" x2="921.1999999999999" y2="881.3000000000001" stroke="#222" stroke-width="0.7"/><line x1="917.0999999999999" y1="884.3000000000001" x2="921.1999999999999" y2="884.3000000000001" stroke="#222" stroke-width="0.7"/>
<rect x="914.3" y="878.1" width="3.7" height="2.1" fill="#fff" stroke="#111" stroke-width="0.8"/>
<polygon points="905.5999999999999,886.6 911.5999999999999,880.2 918.0,879.7 912.5,888.5" fill="#fff" stroke="#111" stroke-width="0.95" stroke-linejoin="round"/>
<line x1="907.3" y1="886.9000000000001" x2="912.8" y2="887.6" stroke="#777" stroke-width="0.6"/>
<line x1="912.5" y1="888.5" x2="917.9" y2="881.9000000000001" stroke="#333" stroke-width="0.6"/>
<path d="M918.0,878.3000000000001 C919.3,875.8000000000001 921.8,875.2 923.5,875.3000000000001 C927.3,875.7 929.8,880.7 932.8,886.7 C935.3,891.7 939.2,894.2 941.7,896.7" fill="none" stroke="#111" stroke-width="0.95"/>
<text x="842.0" y="943.7" font-family="Liberation Sans" font-size="11" fill="#2e2e2e" font-weight="normal" textLength="86.7" lengthAdjust="spacingAndGlyphs">LUČ 500 BL LED</text>
<line x1="127.6" y1="787.0" x2="127.6" y2="804.5" stroke="#8a8a8a" stroke-width="0.75" />
<line x1="279.5" y1="805.0" x2="279.5" y2="823.0" stroke="#8a8a8a" stroke-width="0.75" />
<line x1="127.6" y1="791.6" x2="279.5" y2="809.6" stroke="#777" stroke-width="0.6" />
<polygon points="127.6,791.6 132.2,790.8 131.9,793.4" fill="#333"/>
<polygon points="279.5,809.6 274.9,810.4 275.2,807.8" fill="#333"/>
<text x="0" y="0" transform="translate(203.8,801.5) rotate(6.8)" font-family="Liberation Sans" font-style="italic" font-size="10.5" text-anchor="middle" dominant-baseline="central" textLength="22" lengthAdjust="spacingAndGlyphs" fill="none" stroke="#fff" stroke-width="3.5">1500</text>
<text x="0" y="0" transform="translate(203.8,801.5) rotate(6.8)" font-family="Liberation Sans" font-style="italic" font-size="10.5" text-anchor="middle" dominant-baseline="central" textLength="22" lengthAdjust="spacingAndGlyphs" fill="#222" stroke="#222" stroke-width="0.25">1500</text>
<line x1="120.9" y1="808.9" x2="113.5" y2="801.1" stroke="#8a8a8a" stroke-width="0.75" />
<line x1="125.5" y1="804.3" x2="118.1" y2="796.7" stroke="#8a8a8a" stroke-width="0.75" />
<line x1="105.9" y1="811.4" x2="127.8" y2="791.0" stroke="#777" stroke-width="0.6" />
<polygon points="115.1,802.8 112.9,806.3 111.4,804.7" fill="#333"/>
<polygon points="119.8,798.4 122.0,794.9 123.5,796.5" fill="#333"/>
<text x="0" y="0" transform="translate(96.7,811.2) rotate(-41)" font-family="Liberation Sans" font-style="italic" font-size="10.5" text-anchor="middle" dominant-baseline="central" textLength="16" lengthAdjust="spacingAndGlyphs" fill="#222" stroke="#222" stroke-width="0.25">130</text>
<polygon points="121.3,809.6 127.6,805.4 278.9,824.9 273.6,829.1" stroke="#333" stroke-width="0.8" fill="#fff" />
<polygon points="273.6,829.1 278.9,824.9 278.9,895.3 273.6,899.6" stroke="#333" stroke-width="0.8" fill="#fff" />
<polygon points="121.3,809.6 273.6,829.1 273.6,899.6 121.3,879.5" fill="#fff" stroke="none"/>
<line x1="124.4" y1="832.6999999999999" x2="275.7" y2="851.8" stroke="#9a9a9a" stroke-width="0.75" stroke-dasharray="2 1"/>
<line x1="124.4" y1="835.5" x2="275.7" y2="854.6" stroke="#9a9a9a" stroke-width="0.75" stroke-dasharray="2 1"/>
<line x1="124.4" y1="856.0" x2="275.7" y2="874.0" stroke="#9a9a9a" stroke-width="0.75" stroke-dasharray="2 1"/>
<line x1="124.4" y1="858.8000000000001" x2="275.7" y2="876.8000000000001" stroke="#9a9a9a" stroke-width="0.75" stroke-dasharray="2 1"/>
<g transform="translate(143.5,848.8) rotate(25)"><path d="M-0.6,10.0 L-0.6,-4.5 M0.7,4.5 L0.7,-10.0" stroke="#444" stroke-width="1.0" fill="none" stroke-linecap="round"/></g>
<g transform="translate(195.3,853.0) rotate(25)"><path d="M-0.6,10.0 L-0.6,-4.5 M0.7,4.5 L0.7,-10.0" stroke="#444" stroke-width="1.0" fill="none" stroke-linecap="round"/></g>
<g transform="translate(249.3,861.5) rotate(25)"><path d="M-0.6,10.0 L-0.6,-4.5 M0.7,4.5 L0.7,-10.0" stroke="#444" stroke-width="1.0" fill="none" stroke-linecap="round"/></g>
<line x1="121.3" y1="813.1" x2="273.6" y2="832.6" stroke="#222" stroke-width="1.0" />
<line x1="121.3" y1="809.6" x2="273.6" y2="829.1" stroke="#1a1a1a" stroke-width="1.3"  stroke-linecap="square"/>
<line x1="273.6" y1="829.1" x2="273.6" y2="899.6" stroke="#111" stroke-width="1.4"  stroke-linecap="square"/>
<line x1="273.6" y1="899.6" x2="121.3" y2="879.5" stroke="#111" stroke-width="1.6"  stroke-linecap="square"/>
<line x1="121.3" y1="879.5" x2="121.3" y2="809.6" stroke="#111" stroke-width="1.5" />
<line x1="167.8" y1="819.1" x2="167.8" y2="885.5" stroke="#222" stroke-width="1.1" />
<line x1="226.0" y1="826.5" x2="226.0" y2="892.9" stroke="#222" stroke-width="1.1" />
<rect x="122.5" y="875.3" width="2" height="2.4" fill="#555" stroke="#888" stroke-width="0.4"/>
<rect x="224" y="887.8" width="2" height="2.4" fill="#555" stroke="#888" stroke-width="0.4"/>
<rect x="270.3" y="893.8" width="2" height="2.4" fill="#555" stroke="#888" stroke-width="0.4"/>
<line x1="279.0" y1="825.5" x2="293.0" y2="825.5" stroke="#8a8a8a" stroke-width="0.75" />
<line x1="279.0" y1="895.3" x2="293.0" y2="895.3" stroke="#8a8a8a" stroke-width="0.75" />
<line x1="289.5" y1="825.5" x2="289.5" y2="895.3" stroke="#5a5a5a" stroke-width="0.8" />
<polygon points="289.5,825.5 290.8,830.0 288.2,830.0" fill="#333"/>
<polygon points="289.5,895.3 288.2,890.8 290.8,890.8" fill="#333"/>
<text x="0" y="0" transform="translate(289.5,859.3) rotate(-90)" font-family="Liberation Sans" font-style="italic" font-size="10.5" text-anchor="middle" dominant-baseline="central" textLength="16.5" lengthAdjust="spacingAndGlyphs" fill="none" stroke="#fff" stroke-width="3.5">700</text>
<text x="0" y="0" transform="translate(289.5,859.3) rotate(-90)" font-family="Liberation Sans" font-style="italic" font-size="10.5" text-anchor="middle" dominant-baseline="central" textLength="16.5" lengthAdjust="spacingAndGlyphs" fill="#222" stroke="#222" stroke-width="0.25">700</text>
<circle cx="189" cy="901.7" r="0.5" fill="#999"/>
<text x="117.0" y="943.8" font-family="Liberation Sans" font-size="11" fill="#2e2e2e" font-weight="normal" textLength="118.5" lengthAdjust="spacingAndGlyphs">TO 150 BL - LED, SW, S</text>
<line x1="349.8" y1="790.0" x2="349.8" y2="808.0" stroke="#8a8a8a" stroke-width="0.75" />
<line x1="450.3" y1="802.0" x2="450.3" y2="820.0" stroke="#8a8a8a" stroke-width="0.75" />
<line x1="349.8" y1="794.0" x2="450.3" y2="806.2" stroke="#777" stroke-width="0.6" />
<polygon points="349.8,794.0 354.4,793.3 354.1,795.8" fill="#333"/>
<polygon points="450.3,806.2 445.7,806.9 446.0,804.4" fill="#333"/>
<text x="0" y="0" transform="translate(399.6,801.3) rotate(6.9)" font-family="Liberation Sans" font-style="italic" font-size="10.5" text-anchor="middle" dominant-baseline="central" textLength="21" lengthAdjust="spacingAndGlyphs" fill="none" stroke="#fff" stroke-width="3.5">1000</text>
<text x="0" y="0" transform="translate(399.6,801.3) rotate(6.9)" font-family="Liberation Sans" font-style="italic" font-size="10.5" text-anchor="middle" dominant-baseline="central" textLength="21" lengthAdjust="spacingAndGlyphs" fill="#222" stroke="#222" stroke-width="0.25">1000</text>
<line x1="342.1" y1="812.5" x2="334.7" y2="804.7" stroke="#8a8a8a" stroke-width="0.75" />
<line x1="346.7" y1="807.9" x2="339.3" y2="800.3" stroke="#8a8a8a" stroke-width="0.75" />
<line x1="328.5" y1="813.6" x2="349.0" y2="796.2" stroke="#777" stroke-width="0.6" />
<polygon points="336.6,806.7 334.3,810.1 332.9,808.5" fill="#333"/>
<polygon points="341.5,802.6 343.8,799.1 345.3,800.8" fill="#333"/>
<text x="0" y="0" transform="translate(318.4,814.1) rotate(-41)" font-family="Liberation Sans" font-style="italic" font-size="10.5" text-anchor="middle" dominant-baseline="central" textLength="16" lengthAdjust="spacingAndGlyphs" fill="#222" stroke="#222" stroke-width="0.25">130</text>
<polygon points="342.5,813.2 346.3,808.8 448.6,822.0 444.2,827.2" stroke="#333" stroke-width="0.8" fill="#fff" />
<polygon points="444.2,827.2 448.6,822.0 448.6,891.9 444.2,895.4" stroke="#333" stroke-width="0.8" fill="#fff" />
<polygon points="342.5,813.2 444.2,827.2 444.2,895.4 342.5,883.1" fill="#fff" stroke="none"/>
<line x1="345.4" y1="836.9" x2="446.8" y2="849.1" stroke="#9a9a9a" stroke-width="0.75" stroke-dasharray="2 1"/>
<line x1="345.4" y1="839.7" x2="446.8" y2="851.9000000000001" stroke="#9a9a9a" stroke-width="0.75" stroke-dasharray="2 1"/>
<line x1="345.4" y1="860.4" x2="446.8" y2="871.8" stroke="#9a9a9a" stroke-width="0.75" stroke-dasharray="2 1"/>
<line x1="345.4" y1="863.2" x2="446.8" y2="874.6" stroke="#9a9a9a" stroke-width="0.75" stroke-dasharray="2 1"/>
<g transform="translate(354.2,851.7) rotate(25)"><path d="M-0.6,10.0 L-0.6,-4.5 M0.7,4.5 L0.7,-10.0" stroke="#444" stroke-width="1.0" fill="none" stroke-linecap="round"/></g>
<g transform="translate(395.3,855.2) rotate(25)"><path d="M-0.6,10.0 L-0.6,-4.5 M0.7,4.5 L0.7,-10.0" stroke="#444" stroke-width="1.0" fill="none" stroke-linecap="round"/></g>
<g transform="translate(432.8,862.2) rotate(25)"><path d="M-0.6,10.0 L-0.6,-4.5 M0.7,4.5 L0.7,-10.0" stroke="#444" stroke-width="1.0" fill="none" stroke-linecap="round"/></g>
<line x1="342.5" y1="816.7" x2="444.2" y2="830.7" stroke="#222" stroke-width="1.0" />
<line x1="342.5" y1="813.2" x2="444.2" y2="827.2" stroke="#1a1a1a" stroke-width="1.3"  stroke-linecap="square"/>
<line x1="444.2" y1="827.2" x2="444.2" y2="895.4" stroke="#111" stroke-width="1.4"  stroke-linecap="square"/>
<line x1="444.2" y1="895.4" x2="342.5" y2="883.1" stroke="#111" stroke-width="1.6"  stroke-linecap="square"/>
<line x1="342.5" y1="883.1" x2="342.5" y2="813.2" stroke="#111" stroke-width="1.5" />
<line x1="363.3" y1="819.6" x2="363.3" y2="886.0" stroke="#222" stroke-width="1.1" />
<line x1="422.7" y1="827.7" x2="422.7" y2="894.1" stroke="#222" stroke-width="1.1" />
<rect x="343.5" y="878.3" width="2" height="2.4" fill="#555" stroke="#888" stroke-width="0.4"/>
<rect x="420" y="888.3" width="2" height="2.4" fill="#555" stroke="#888" stroke-width="0.4"/>
<rect x="440.5" y="890.8" width="2" height="2.4" fill="#555" stroke="#888" stroke-width="0.4"/>
<line x1="449.0" y1="822.0" x2="463.0" y2="822.0" stroke="#8a8a8a" stroke-width="0.75" />
<line x1="449.0" y1="891.0" x2="463.0" y2="891.0" stroke="#8a8a8a" stroke-width="0.75" />
<line x1="459.4" y1="822.0" x2="459.4" y2="891.0" stroke="#5a5a5a" stroke-width="0.8" />
<polygon points="459.4,822.0 460.7,826.5 458.1,826.5" fill="#333"/>
<polygon points="459.4,891.0 458.1,886.5 460.7,886.5" fill="#333"/>
<text x="0" y="0" transform="translate(459.4,856.0) rotate(-90)" font-family="Liberation Sans" font-style="italic" font-size="10.5" text-anchor="middle" dominant-baseline="central" textLength="16.5" lengthAdjust="spacingAndGlyphs" fill="none" stroke="#fff" stroke-width="3.5">700</text>
<text x="0" y="0" transform="translate(459.4,856.0) rotate(-90)" font-family="Liberation Sans" font-style="italic" font-size="10.5" text-anchor="middle" dominant-baseline="central" textLength="16.5" lengthAdjust="spacingAndGlyphs" fill="#222" stroke="#222" stroke-width="0.25">700</text>
<text x="332.3" y="944.0" font-family="Liberation Sans" font-size="11" fill="#2e2e2e" font-weight="normal" textLength="119.4" lengthAdjust="spacingAndGlyphs">TO 100 BL - LED, SW, S</text>
<line x1="532.4" y1="800.0" x2="532.4" y2="816.0" stroke="#8a8a8a" stroke-width="0.75" />
<line x1="603.6" y1="809.0" x2="603.6" y2="825.0" stroke="#8a8a8a" stroke-width="0.75" />
<line x1="532.4" y1="803.5" x2="603.6" y2="812.1" stroke="#777" stroke-width="0.6" />
<polygon points="532.4,803.5 537.0,802.7 536.7,805.3" fill="#333"/>
<polygon points="603.6,812.1 599.0,812.9 599.3,810.3" fill="#333"/>
<text x="0" y="0" transform="translate(568.4,808.5) rotate(6.9)" font-family="Liberation Sans" font-style="italic" font-size="10.5" text-anchor="middle" dominant-baseline="central" textLength="17" lengthAdjust="spacingAndGlyphs" fill="none" stroke="#fff" stroke-width="3.5">700</text>
<text x="0" y="0" transform="translate(568.4,808.5) rotate(6.9)" font-family="Liberation Sans" font-style="italic" font-size="10.5" text-anchor="middle" dominant-baseline="central" textLength="17" lengthAdjust="spacingAndGlyphs" fill="#222" stroke="#222" stroke-width="0.25">700</text>
<line x1="525.7" y1="820.3" x2="518.3" y2="812.5" stroke="#8a8a8a" stroke-width="0.75" />
<line x1="530.3" y1="815.7" x2="522.9" y2="808.1" stroke="#8a8a8a" stroke-width="0.75" />
<line x1="511.3" y1="822.2" x2="531.6" y2="805.8" stroke="#777" stroke-width="0.6" />
<polygon points="520.5,814.8 518.1,818.2 516.7,816.4" fill="#333"/>
<polygon points="525.5,810.7 527.9,807.4 529.3,809.1" fill="#333"/>
<text x="0" y="0" transform="translate(501.9,823.0) rotate(-41)" font-family="Liberation Sans" font-style="italic" font-size="10.5" text-anchor="middle" dominant-baseline="central" textLength="16" lengthAdjust="spacingAndGlyphs" fill="#222" stroke="#222" stroke-width="0.25">130</text>
<polygon points="526.1,821.0 529.7,816.8 602.0,825.7 597.3,831.6" stroke="#333" stroke-width="0.8" fill="#fff" />
<polygon points="597.3,831.6 602.0,825.7 602.0,896.5 597.3,900.4" stroke="#333" stroke-width="0.8" fill="#fff" />
<polygon points="526.1,821 597.3,831.6 597.3,900.4 526.1,891" fill="#fff" stroke="none"/>
<line x1="529.3" y1="844.1999999999999" x2="599.6" y2="852.9" stroke="#9a9a9a" stroke-width="0.75" stroke-dasharray="2 1"/>
<line x1="529.3" y1="847.0" x2="599.6" y2="855.7" stroke="#9a9a9a" stroke-width="0.75" stroke-dasharray="2 1"/>
<line x1="529.3" y1="866.9" x2="599.6" y2="874.6999999999999" stroke="#9a9a9a" stroke-width="0.75" stroke-dasharray="2 1"/>
<line x1="529.3" y1="869.7" x2="599.6" y2="877.5" stroke="#9a9a9a" stroke-width="0.75" stroke-dasharray="2 1"/>
<g transform="translate(537.9,859.8) rotate(25)"><path d="M-0.6,10.0 L-0.6,-4.5 M0.7,4.5 L0.7,-10.0" stroke="#444" stroke-width="1.0" fill="none" stroke-linecap="round"/></g>
<g transform="translate(572.3,863.7) rotate(25)"><path d="M-0.6,10.0 L-0.6,-4.5 M0.7,4.5 L0.7,-10.0" stroke="#444" stroke-width="1.0" fill="none" stroke-linecap="round"/></g>
<line x1="526.1" y1="824.5" x2="597.3" y2="835.1" stroke="#222" stroke-width="1.0" />
<line x1="526.1" y1="821.0" x2="597.3" y2="831.6" stroke="#1a1a1a" stroke-width="1.3"  stroke-linecap="square"/>
<line x1="597.3" y1="831.6" x2="597.3" y2="900.4" stroke="#111" stroke-width="1.4"  stroke-linecap="square"/>
<line x1="597.3" y1="900.4" x2="526.1" y2="891.0" stroke="#111" stroke-width="1.6"  stroke-linecap="square"/>
<line x1="526.1" y1="891.0" x2="526.1" y2="821.0" stroke="#111" stroke-width="1.5" />
<line x1="547.6" y1="827.7" x2="547.6" y2="894.2" stroke="#222" stroke-width="1.1" />
<rect x="527" y="886.3" width="2" height="2.4" fill="#555" stroke="#888" stroke-width="0.4"/>
<rect x="594" y="895.3" width="2" height="2.4" fill="#555" stroke="#888" stroke-width="0.4"/>
<line x1="602.0" y1="825.4" x2="617.0" y2="825.4" stroke="#8a8a8a" stroke-width="0.75" />
<line x1="602.0" y1="895.7" x2="617.0" y2="895.7" stroke="#8a8a8a" stroke-width="0.75" />
<line x1="612.9" y1="825.4" x2="612.9" y2="895.7" stroke="#5a5a5a" stroke-width="0.8" />
<polygon points="612.9,825.4 614.2,829.9 611.6,829.9" fill="#333"/>
<polygon points="612.9,895.7 611.6,891.2 614.2,891.2" fill="#333"/>
<text x="0" y="0" transform="translate(612.9,860.5) rotate(-90)" font-family="Liberation Sans" font-style="italic" font-size="10.5" text-anchor="middle" dominant-baseline="central" textLength="16.5" lengthAdjust="spacingAndGlyphs" fill="none" stroke="#fff" stroke-width="3.5">700</text>
<text x="0" y="0" transform="translate(612.9,860.5) rotate(-90)" font-family="Liberation Sans" font-style="italic" font-size="10.5" text-anchor="middle" dominant-baseline="central" textLength="16.5" lengthAdjust="spacingAndGlyphs" fill="#222" stroke="#222" stroke-width="0.25">700</text>
<text x="521.0" y="943.8" font-family="Liberation Sans" font-size="11" fill="#2e2e2e" font-weight="normal" textLength="113.8" lengthAdjust="spacingAndGlyphs">TO 70 BL - LED, SW, S</text>
<line x1="117.2" y1="1059.0" x2="117.2" y2="1069.0" stroke="#8a8a8a" stroke-width="0.75" />
<line x1="268.9" y1="1078.0" x2="268.9" y2="1089.0" stroke="#8a8a8a" stroke-width="0.75" />
<line x1="117.2" y1="1064.7" x2="268.9" y2="1083.6" stroke="#6a6a6a" stroke-width="0.7" />
<polygon points="117.2,1064.7 121.8,1064.0 121.5,1066.5" fill="#333"/>
<polygon points="268.9,1083.6 264.3,1084.3 264.6,1081.8" fill="#333"/>
<text x="0" y="0" transform="translate(192.6,1074.6) rotate(7.1017726262364675)" font-family="Liberation Sans" font-style="italic" font-size="10.5" text-anchor="middle" dominant-baseline="central" textLength="22" lengthAdjust="spacingAndGlyphs" fill="none" stroke="#fff" stroke-width="3.5">1500</text>
<text x="0" y="0" transform="translate(192.6,1074.6) rotate(7.1017726262364675)" font-family="Liberation Sans" font-style="italic" font-size="10.5" text-anchor="middle" dominant-baseline="central" textLength="22" lengthAdjust="spacingAndGlyphs" fill="#222" stroke="#222" stroke-width="0.25">1500</text>
<polygon points="117.2,987 269.8,1005.7 269.8,1078.2 117.2,1058.9" fill="#fff" stroke="none"/>
<line x1="117.2" y1="987.0" x2="269.8" y2="1005.7" stroke="#1a1a1a" stroke-width="1.1"  stroke-linecap="square"/>
<line x1="269.8" y1="1005.7" x2="269.8" y2="1078.2" stroke="#555" stroke-width="1.0"  stroke-linecap="square"/>
<line x1="269.8" y1="1078.2" x2="117.2" y2="1058.9" stroke="#333" stroke-width="1.0" />
<line x1="117.2" y1="1058.9" x2="117.2" y2="987.0" stroke="#666" stroke-width="0.8" />
<g transform="translate(227.9,1044.4) rotate(25)"><path d="M-0.6,10.5 L-0.6,-4.7 M0.7,4.7 L0.7,-10.5" stroke="#444" stroke-width="1.0" fill="none" stroke-linecap="round"/></g>
<line x1="270.0" y1="1005.7" x2="283.0" y2="1005.7" stroke="#8a8a8a" stroke-width="0.75" />
<line x1="270.0" y1="1078.2" x2="283.0" y2="1078.2" stroke="#8a8a8a" stroke-width="0.75" />
<line x1="277.6" y1="1005.7" x2="277.6" y2="1078.2" stroke="#5a5a5a" stroke-width="0.8" />
<polygon points="277.6,1005.7 278.9,1010.2 276.3,1010.2" fill="#333"/>
<polygon points="277.6,1078.2 276.3,1073.7 278.9,1073.7" fill="#333"/>
<text x="0" y="0" transform="translate(277.6,1041.5) rotate(-90)" font-family="Liberation Sans" font-style="italic" font-size="10.5" text-anchor="middle" dominant-baseline="central" textLength="16.5" lengthAdjust="spacingAndGlyphs" fill="none" stroke="#fff" stroke-width="3.5">700</text>
<text x="0" y="0" transform="translate(277.6,1041.5) rotate(-90)" font-family="Liberation Sans" font-style="italic" font-size="10.5" text-anchor="middle" dominant-baseline="central" textLength="16.5" lengthAdjust="spacingAndGlyphs" fill="#222" stroke="#222" stroke-width="0.25">700</text>
<text x="113.9" y="1128.4" font-family="Liberation Sans" font-size="11" fill="#2e2e2e" font-weight="normal" textLength="36.7" lengthAdjust="spacingAndGlyphs">OG 150</text>
<line x1="323.5" y1="1059.0" x2="323.5" y2="1073.0" stroke="#8a8a8a" stroke-width="0.75" />
<line x1="425.5" y1="1072.0" x2="425.5" y2="1085.0" stroke="#8a8a8a" stroke-width="0.75" />
<line x1="323.5" y1="1069.1" x2="425.5" y2="1081.2" stroke="#6a6a6a" stroke-width="0.7" />
<polygon points="323.5,1069.1 328.1,1068.3 327.8,1070.9" fill="#333"/>
<polygon points="425.5,1081.2 420.9,1082.0 421.2,1079.4" fill="#333"/>
<text x="0" y="0" transform="translate(374.9,1075.7) rotate(6.765235963040003)" font-family="Liberation Sans" font-style="italic" font-size="10.5" text-anchor="middle" dominant-baseline="central" textLength="21" lengthAdjust="spacingAndGlyphs" fill="none" stroke="#fff" stroke-width="3.5">1000</text>
<text x="0" y="0" transform="translate(374.9,1075.7) rotate(6.765235963040003)" font-family="Liberation Sans" font-style="italic" font-size="10.5" text-anchor="middle" dominant-baseline="central" textLength="21" lengthAdjust="spacingAndGlyphs" fill="#222" stroke="#222" stroke-width="0.25">1000</text>
<polygon points="325,986.4 426.9,999.2 426.9,1071 325,1058.1" fill="#fff" stroke="none"/>
<line x1="325.0" y1="986.4" x2="426.9" y2="999.2" stroke="#1a1a1a" stroke-width="1.1"  stroke-linecap="square"/>
<line x1="426.9" y1="999.2" x2="426.9" y2="1071.0" stroke="#555" stroke-width="1.0"  stroke-linecap="square"/>
<line x1="426.9" y1="1071.0" x2="325.0" y2="1058.1" stroke="#333" stroke-width="1.0" />
<line x1="325.0" y1="1058.1" x2="325.0" y2="986.4" stroke="#666" stroke-width="0.8" />
<g transform="translate(397.0,1041.3) rotate(25)"><path d="M-0.6,10.5 L-0.6,-4.7 M0.7,4.7 L0.7,-10.5" stroke="#444" stroke-width="1.0" fill="none" stroke-linecap="round"/></g>
<line x1="427.0" y1="999.2" x2="440.0" y2="999.2" stroke="#8a8a8a" stroke-width="0.75" />
<line x1="427.0" y1="1071.0" x2="440.0" y2="1071.0" stroke="#8a8a8a" stroke-width="0.75" />
<line x1="434.8" y1="999.2" x2="434.8" y2="1071.0" stroke="#5a5a5a" stroke-width="0.8" />
<polygon points="434.8,999.2 436.1,1003.7 433.5,1003.7" fill="#333"/>
<polygon points="434.8,1071.0 433.5,1066.5 436.1,1066.5" fill="#333"/>
<text x="0" y="0" transform="translate(434.8,1034.9) rotate(-90)" font-family="Liberation Sans" font-style="italic" font-size="10.5" text-anchor="middle" dominant-baseline="central" textLength="16.5" lengthAdjust="spacingAndGlyphs" fill="none" stroke="#fff" stroke-width="3.5">700</text>
<text x="0" y="0" transform="translate(434.8,1034.9) rotate(-90)" font-family="Liberation Sans" font-style="italic" font-size="10.5" text-anchor="middle" dominant-baseline="central" textLength="16.5" lengthAdjust="spacingAndGlyphs" fill="#222" stroke="#222" stroke-width="0.25">700</text>
<text x="319.3" y="1128.0" font-family="Liberation Sans" font-size="11" fill="#2e2e2e" font-weight="normal" textLength="37.3" lengthAdjust="spacingAndGlyphs">OG 100</text>
<line x1="510.0" y1="1067.0" x2="510.0" y2="1080.0" stroke="#8a8a8a" stroke-width="0.75" />
<line x1="580.4" y1="1075.0" x2="580.4" y2="1089.0" stroke="#8a8a8a" stroke-width="0.75" />
<line x1="510.0" y1="1076.6" x2="580.4" y2="1085.1" stroke="#6a6a6a" stroke-width="0.7" />
<polygon points="510.0,1076.6 514.6,1075.8 514.3,1078.4" fill="#333"/>
<polygon points="580.4,1085.1 575.8,1085.9 576.1,1083.3" fill="#333"/>
<text x="0" y="0" transform="translate(545.2,1080.8) rotate(6.88448973870505)" font-family="Liberation Sans" font-style="italic" font-size="10.5" text-anchor="middle" dominant-baseline="central" textLength="16.5" lengthAdjust="spacingAndGlyphs" fill="none" stroke="#fff" stroke-width="3.5">700</text>
<text x="0" y="0" transform="translate(545.2,1080.8) rotate(6.88448973870505)" font-family="Liberation Sans" font-style="italic" font-size="10.5" text-anchor="middle" dominant-baseline="central" textLength="16.5" lengthAdjust="spacingAndGlyphs" fill="#222" stroke="#222" stroke-width="0.25">700</text>
<polygon points="511.2,993.1 582.5,1001.8 582.5,1073.8 511.2,1064.5" fill="#fff" stroke="none"/>
<line x1="511.2" y1="993.1" x2="582.5" y2="1001.8" stroke="#1a1a1a" stroke-width="1.1"  stroke-linecap="square"/>
<line x1="582.5" y1="1001.8" x2="582.5" y2="1073.8" stroke="#555" stroke-width="1.0"  stroke-linecap="square"/>
<line x1="582.5" y1="1073.8" x2="511.2" y2="1064.5" stroke="#333" stroke-width="1.0" />
<line x1="511.2" y1="1064.5" x2="511.2" y2="993.1" stroke="#666" stroke-width="0.8" />
<g transform="translate(555.5,1041.6) rotate(25)"><path d="M-0.6,10.5 L-0.6,-4.7 M0.7,4.7 L0.7,-10.5" stroke="#444" stroke-width="1.0" fill="none" stroke-linecap="round"/></g>
<line x1="583.0" y1="1001.8" x2="596.0" y2="1001.8" stroke="#8a8a8a" stroke-width="0.75" />
<line x1="583.0" y1="1073.8" x2="596.0" y2="1073.8" stroke="#8a8a8a" stroke-width="0.75" />
<line x1="590.5" y1="1001.8" x2="590.5" y2="1073.8" stroke="#5a5a5a" stroke-width="0.8" />
<polygon points="590.5,1001.8 591.8,1006.3 589.2,1006.3" fill="#333"/>
<polygon points="590.5,1073.8 589.2,1069.3 591.8,1069.3" fill="#333"/>
<text x="0" y="0" transform="translate(590.5,1037.4) rotate(-90)" font-family="Liberation Sans" font-style="italic" font-size="10.5" text-anchor="middle" dominant-baseline="central" textLength="16.5" lengthAdjust="spacingAndGlyphs" fill="none" stroke="#fff" stroke-width="3.5">700</text>
<text x="0" y="0" transform="translate(590.5,1037.4) rotate(-90)" font-family="Liberation Sans" font-style="italic" font-size="10.5" text-anchor="middle" dominant-baseline="central" textLength="16.5" lengthAdjust="spacingAndGlyphs" fill="#222" stroke="#222" stroke-width="0.25">700</text>
<text x="500.3" y="1128.2" font-family="Liberation Sans" font-size="11" fill="#2e2e2e" font-weight="normal" textLength="32.4" lengthAdjust="spacingAndGlyphs">OG 70</text>
<line x1="111.6" y1="1201.0" x2="111.6" y2="1215.0" stroke="#8a8a8a" stroke-width="0.75" />
<line x1="263.8" y1="1221.0" x2="263.8" y2="1234.0" stroke="#8a8a8a" stroke-width="0.75" />
<line x1="111.6" y1="1211.9" x2="263.8" y2="1230.7" stroke="#777" stroke-width="0.6" />
<polygon points="111.6,1211.9 116.2,1211.2 115.9,1213.7" fill="#333"/>
<polygon points="263.8,1230.7 259.2,1231.4 259.5,1228.9" fill="#333"/>
<text x="0" y="0" transform="translate(187.4,1221.2) rotate(7.041602946878428)" font-family="Liberation Sans" font-style="italic" font-size="10.5" text-anchor="middle" dominant-baseline="central" textLength="22" lengthAdjust="spacingAndGlyphs" fill="none" stroke="#fff" stroke-width="3.5">1505</text>
<text x="0" y="0" transform="translate(187.4,1221.2) rotate(7.041602946878428)" font-family="Liberation Sans" font-style="italic" font-size="10.5" text-anchor="middle" dominant-baseline="central" textLength="22" lengthAdjust="spacingAndGlyphs" fill="#222" stroke="#222" stroke-width="0.25">1505</text>
<polygon points="117.6,1194.5 269.5,1213.8 267.6,1218.1 112.4,1198.7" stroke="#333" stroke-width="0.8" fill="#fff" />
<polygon points="112.4,1198.7 267.6,1218.1 265.7,1220.0 112.4,1201.1" stroke="#333" stroke-width="0.8" fill="#fff" />
<rect x="125.4" y="1183.6" width="2.6" height="11.900000000000091" fill="#fff" stroke="#333" stroke-width="0.7"/>
<line x1="126.7" y1="1185.1" x2="126.7" y2="1194.5" stroke="#333" stroke-width="0.8" stroke-dasharray="1 1.4"/>
<rect x="192.2" y="1191.7" width="2.6" height="12.299999999999955" fill="#fff" stroke="#333" stroke-width="0.7"/>
<line x1="193.5" y1="1193.2" x2="193.5" y2="1203" stroke="#333" stroke-width="0.8" stroke-dasharray="1 1.4"/>
<rect x="259.3" y="1200.2" width="2.6" height="12.200000000000045" fill="#fff" stroke="#333" stroke-width="0.7"/>
<line x1="260.6" y1="1201.7" x2="260.6" y2="1211.4" stroke="#333" stroke-width="0.8" stroke-dasharray="1 1.4"/>
<line x1="270.3" y1="1217.7" x2="280.2" y2="1228.5" stroke="#8a8a8a" stroke-width="0.75" />
<line x1="265.7" y1="1221.9" x2="275.9" y2="1233.1" stroke="#8a8a8a" stroke-width="0.75" />
<line x1="261.0" y1="1241.7" x2="287.4" y2="1218.1" stroke="#777" stroke-width="0.6" />
<polygon points="273.5,1230.5 271.3,1234.0 269.8,1232.3" fill="#333"/>
<polygon points="278.2,1226.3 280.5,1222.8 281.9,1224.5" fill="#333"/>
<text x="0" y="0" transform="translate(250.6,1241.3) rotate(-50)" font-family="Liberation Sans" font-style="italic" font-size="10.5" text-anchor="middle" dominant-baseline="central" textLength="16" lengthAdjust="spacingAndGlyphs" fill="#222" stroke="#222" stroke-width="0.25">120</text>
<line x1="112.9" y1="1251.5" x2="170.4" y2="1251.5" stroke="#888" stroke-width="0.9" stroke-dasharray="2.5 1.5"/>
<text x="108.6" y="1281.1" font-family="Liberation Sans" font-size="11" fill="#2e2e2e" font-weight="normal" textLength="61.8" lengthAdjust="spacingAndGlyphs">POL OG 150</text>
<line x1="324.7" y1="1205.0" x2="324.7" y2="1219.0" stroke="#8a8a8a" stroke-width="0.75" />
<line x1="426.4" y1="1215.0" x2="426.4" y2="1232.0" stroke="#8a8a8a" stroke-width="0.75" />
<line x1="324.7" y1="1215.2" x2="426.4" y2="1228.0" stroke="#777" stroke-width="0.6" />
<polygon points="324.7,1215.2 329.3,1214.5 329.0,1217.1" fill="#333"/>
<polygon points="426.4,1228.0 421.8,1228.7 422.1,1226.1" fill="#333"/>
<text x="0" y="0" transform="translate(375.6,1221.8) rotate(7.173548580347847)" font-family="Liberation Sans" font-style="italic" font-size="10.5" text-anchor="middle" dominant-baseline="central" textLength="21" lengthAdjust="spacingAndGlyphs" fill="none" stroke="#fff" stroke-width="3.5">1005</text>
<text x="0" y="0" transform="translate(375.6,1221.8) rotate(7.173548580347847)" font-family="Liberation Sans" font-style="italic" font-size="10.5" text-anchor="middle" dominant-baseline="central" textLength="21" lengthAdjust="spacingAndGlyphs" fill="#222" stroke="#222" stroke-width="0.25">1005</text>
<polygon points="330.0,1197.3 432.5,1209.8 431.0,1213.3 326.3,1200.4" stroke="#333" stroke-width="0.8" fill="#fff" />
<polygon points="326.3,1200.4 431.0,1213.3 429.5,1215.5 326.3,1203.1" stroke="#333" stroke-width="0.8" fill="#fff" />
<rect x="338.9" y="1185.2" width="2.6" height="12.099999999999909" fill="#fff" stroke="#333" stroke-width="0.7"/>
<line x1="340.2" y1="1186.7" x2="340.2" y2="1196.3" stroke="#333" stroke-width="0.8" stroke-dasharray="1 1.4"/>
<rect x="422.09999999999997" y="1195.8" width="2.6" height="12.200000000000045" fill="#fff" stroke="#333" stroke-width="0.7"/>
<line x1="423.4" y1="1197.3" x2="423.4" y2="1207" stroke="#333" stroke-width="0.8" stroke-dasharray="1 1.4"/>
<line x1="433.7" y1="1212.9" x2="443.6" y2="1223.7" stroke="#8a8a8a" stroke-width="0.75" />
<line x1="429.1" y1="1217.1" x2="439.3" y2="1228.3" stroke="#8a8a8a" stroke-width="0.75" />
<line x1="423.2" y1="1238.7" x2="448.7" y2="1216.2" stroke="#777" stroke-width="0.6" />
<polygon points="437.4,1226.2 435.1,1229.7 433.7,1228.0" fill="#333"/>
<polygon points="442.1,1222.0 444.4,1218.6 445.8,1220.2" fill="#333"/>
<text x="0" y="0" transform="translate(414.0,1238.3) rotate(-50)" font-family="Liberation Sans" font-style="italic" font-size="10.5" text-anchor="middle" dominant-baseline="central" textLength="16" lengthAdjust="spacingAndGlyphs" fill="#222" stroke="#222" stroke-width="0.25">120</text>
<text x="318.7" y="1281.0" font-family="Liberation Sans" font-size="11" fill="#2e2e2e" font-weight="normal" textLength="62.2" lengthAdjust="spacingAndGlyphs">POL OG 100</text>
<line x1="514.9" y1="1209.0" x2="514.9" y2="1223.0" stroke="#8a8a8a" stroke-width="0.75" />
<line x1="586.3" y1="1217.0" x2="586.3" y2="1232.0" stroke="#8a8a8a" stroke-width="0.75" />
<line x1="514.9" y1="1220.3" x2="586.3" y2="1228.4" stroke="#777" stroke-width="0.6" />
<polygon points="514.9,1220.3 519.5,1219.5 519.2,1222.1" fill="#333"/>
<polygon points="586.3,1228.4 581.7,1229.2 582.0,1226.6" fill="#333"/>
<text x="0" y="0" transform="translate(550.9,1224.3) rotate(6.472270302903179)" font-family="Liberation Sans" font-style="italic" font-size="10.5" text-anchor="middle" dominant-baseline="central" textLength="17" lengthAdjust="spacingAndGlyphs" fill="none" stroke="#fff" stroke-width="3.5">705</text>
<text x="0" y="0" transform="translate(550.9,1224.3) rotate(6.472270302903179)" font-family="Liberation Sans" font-style="italic" font-size="10.5" text-anchor="middle" dominant-baseline="central" textLength="17" lengthAdjust="spacingAndGlyphs" fill="#222" stroke="#222" stroke-width="0.25">705</text>
<polygon points="520.5,1202.0 592.5,1211.6 590.6,1214.7 516.4,1206.3" stroke="#333" stroke-width="0.8" fill="#fff" />
<polygon points="516.4,1206.3 590.6,1214.7 588.1,1217.0 516.4,1207.9" stroke="#333" stroke-width="0.8" fill="#fff" />
<rect x="529.1" y="1190.5" width="2.6" height="12.400000000000091" fill="#fff" stroke="#333" stroke-width="0.7"/>
<line x1="530.4" y1="1192.0" x2="530.4" y2="1201.9" stroke="#333" stroke-width="0.8" stroke-dasharray="1 1.4"/>
<rect x="582.1" y="1197.3" width="2.6" height="12.400000000000091" fill="#fff" stroke="#333" stroke-width="0.7"/>
<line x1="583.4" y1="1198.8" x2="583.4" y2="1208.7" stroke="#333" stroke-width="0.8" stroke-dasharray="1 1.4"/>
<line x1="593.3" y1="1214.3" x2="603.2" y2="1225.1" stroke="#8a8a8a" stroke-width="0.75" />
<line x1="588.7" y1="1218.5" x2="598.9" y2="1229.7" stroke="#8a8a8a" stroke-width="0.75" />
<line x1="583.2" y1="1238.9" x2="609.9" y2="1216.0" stroke="#777" stroke-width="0.6" />
<polygon points="596.7,1227.3 594.4,1230.7 593.0,1229.1" fill="#333"/>
<polygon points="601.5,1223.2 603.8,1219.8 605.2,1221.5" fill="#333"/>
<text x="0" y="0" transform="translate(573.9,1239.5) rotate(-50)" font-family="Liberation Sans" font-style="italic" font-size="10.5" text-anchor="middle" dominant-baseline="central" textLength="16" lengthAdjust="spacingAndGlyphs" fill="#222" stroke="#222" stroke-width="0.25">120</text>
<text x="505.2" y="1280.8" font-family="Liberation Sans" font-size="11" fill="#2e2e2e" font-weight="normal" textLength="57.5" lengthAdjust="spacingAndGlyphs">POL OG 70</text>
</svg>
</body></html>
